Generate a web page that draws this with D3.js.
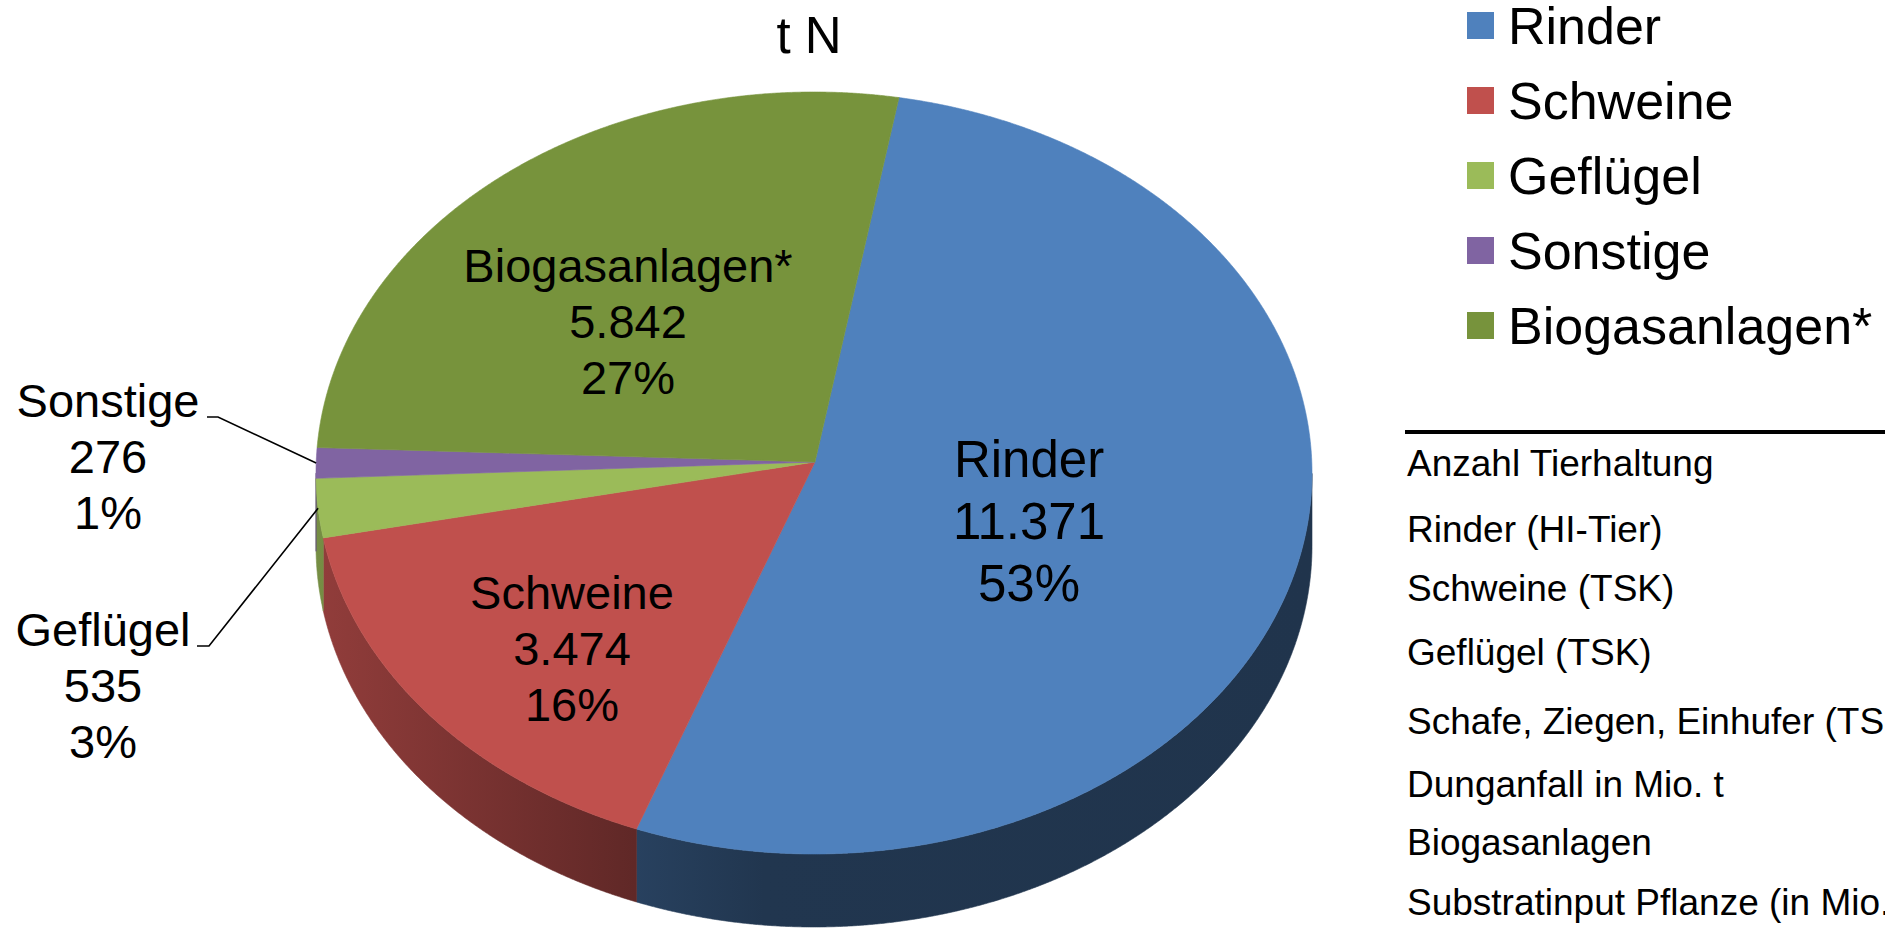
<!DOCTYPE html>
<html><head><meta charset="utf-8">
<script src="https://cdn.jsdelivr.net/npm/d3@7"></script>
<style>html,body{margin:0;padding:0;background:#fff;overflow:hidden}</style>
</head><body>
<svg id="c" width="1885" height="928"></svg>
<script>
// ---- data ----
const title = "t N";
const categories = ["Rinder", "Schweine", "Geflügel", "Sonstige", "Biogasanlagen*"];
const values = [11371, 3474, 535, 276, 5842];
const pctLabels = ["53%", "16%", "3%", "1%", "27%"];
const colors = ["#4F81BD", "#C0504D", "#9BBB59", "#8064A2", "#77933C"];
const tableRows = ["Anzahl Tierhaltung", "Rinder (HI-Tier)", "Schweine (TSK)", "Geflügel (TSK)",
  "Schafe, Ziegen, Einhufer (TSK)", "Dunganfall in Mio. t", "Biogasanlagen", "Substratinput Pflanze (in Mio."];

// ---- layout ----
const W = 1885, H = 928;
const FONT = "'Liberation Sans', Arial, Helvetica, sans-serif";
const cx = 814, cy = 473, rx = 498, ry = 381;   // top-face ellipse
const ax = 815, ay = 462;                        // apex (projected centre)
const depth = 73;
const deg = Math.PI / 180;
const startAngle = 10 * deg;

const svg = d3.select("#c");
svg.append("rect").attr("width", W).attr("height", H).attr("fill", "#fff");

const de = d3.formatLocale({decimal: ",", thousands: ".", grouping: [3], currency: ["", "€"]});
const fmt = de.format(",d");

const pie = d3.pie().sort(null).value(d => d)
  .startAngle(startAngle).endAngle(startAngle + 2 * Math.PI);
const arcs = pie(values);

// point on the top-face rim for a data angle (clockwise from 12 o'clock)
function P(t) {
  const u0 = (ax - cx) / rx, v0 = (ay - cy) / ry;
  const du = Math.sin(t), dv = -Math.cos(t);
  const b = u0 * du + v0 * dv, c = u0 * u0 + v0 * v0 - 1;
  const s = -b + Math.sqrt(b * b - c);
  return [cx + rx * (u0 + s * du), cy + ry * (v0 + s * dv)];
}
function samples(a, b, step) {
  const n = Math.max(2, Math.ceil((b - a) / step));
  const out = [];
  for (let i = 0; i <= n; i++) out.push(a + (b - a) * i / n);
  return out;
}

const defs = svg.append("defs");
const stops = [[0, 0.76], [0.32, 0.5], [0.45, 0.42], [1, 0.4]];
colors.forEach((c, i) => {
  const g = defs.append("linearGradient").attr("id", "side" + i)
    .attr("gradientUnits", "userSpaceOnUse")
    .attr("x1", cx - rx).attr("x2", cx + rx).attr("y1", 0).attr("y2", 0);
  const base = d3.rgb(c);
  stops.forEach(([o, k]) => {
    g.append("stop").attr("offset", o)
      .attr("stop-color", d3.rgb(base.r * k, base.g * k, base.b * k).formatHex());
  });
});

// ---- sides ----
const gSide = svg.append("g");
arcs.forEach((d, i) => {
  const pts = samples(d.startAngle, d.endAngle, 0.2 * deg).map(P).filter(p => p[1] >= cy - 0.5);
  if (pts.length < 2) return;
  const p = d3.path();
  p.moveTo(pts[0][0], pts[0][1]);
  pts.slice(1).forEach(q => p.lineTo(q[0], q[1]));
  pts.slice().reverse().forEach(q => p.lineTo(q[0], q[1] + depth));
  p.closePath();
  gSide.append("path").attr("d", p.toString())
    .attr("fill", `url(#side${i})`).attr("stroke", `url(#side${i})`).attr("stroke-width", 0.6);
});

// ---- top faces ----
const gTop = svg.append("g");
arcs.forEach((d, i) => {
  const p = d3.path();
  p.moveTo(ax, ay);
  samples(d.startAngle, d.endAngle, 0.2 * deg).map(P).forEach(q => p.lineTo(q[0], q[1]));
  p.closePath();
  gTop.append("path").attr("d", p.toString())
    .attr("fill", colors[i]).attr("stroke", colors[i]).attr("stroke-width", 0.6);
});

// ---- title ----
svg.append("text").attr("x", 809).attr("y", 53).attr("text-anchor", "middle")
  .attr("font-family", FONT).attr("font-size", 51).attr("fill", "#000").text(title);

// ---- data labels ----
const labelPos = [
  {x: 1029, y: 477, fs: 51, lh: 62},
  {x: 572, y: 609, fs: 47, lh: 56},
  {x: 103, y: 646, fs: 47, lh: 56},
  {x: 108, y: 417, fs: 47, lh: 56},
  {x: 628, y: 282, fs: 47, lh: 56}
];
arcs.forEach((d, i) => {
  const lp = labelPos[i];
  const t = svg.append("text").attr("text-anchor", "middle")
    .attr("font-family", FONT).attr("font-size", lp.fs).attr("fill", "#000");
  [categories[i], fmt(values[i]), pctLabels[i]].forEach((s, k) => {
    t.append("tspan").attr("x", lp.x).attr("y", lp.y + k * lp.lh).text(s);
  });
});

// ---- leader lines ----
const leaders = [
  {i: 3, from: [[207, 417], [218, 417]]},
  {i: 2, from: [[197, 646], [209, 646]]}
];
leaders.forEach(l => {
  const d = arcs[l.i];
  const end = P((d.startAngle + d.endAngle) / 2);
  svg.append("path").attr("d", d3.line()([...l.from, end]))
    .attr("fill", "none").attr("stroke", "#000").attr("stroke-width", 1.6);
});

// ---- legend ----
const lg = svg.append("g");
categories.forEach((c, i) => {
  const yc = 25.5 + i * 75;
  lg.append("rect").attr("x", 1467).attr("y", yc - 13.5).attr("width", 27).attr("height", 27)
    .attr("fill", colors[i]);
  lg.append("text").attr("x", 1508).attr("y", yc + 18.5)
    .attr("font-family", FONT).attr("font-size", 52).attr("fill", "#000").text(c);
});

// ---- table fragment on the right (cut at the right edge as in the source) ----
svg.append("line").attr("x1", 1405).attr("x2", W).attr("y1", 432).attr("y2", 432)
  .attr("stroke", "#000").attr("stroke-width", 4);
const rowY = [476, 542, 601, 665, 734, 797, 855, 915];
tableRows.forEach((s, i) => {
  svg.append("text").attr("x", 1407).attr("y", rowY[i])
    .attr("font-family", FONT).attr("font-size", 37).attr("fill", "#000").text(s);
});
</script></body></html>
